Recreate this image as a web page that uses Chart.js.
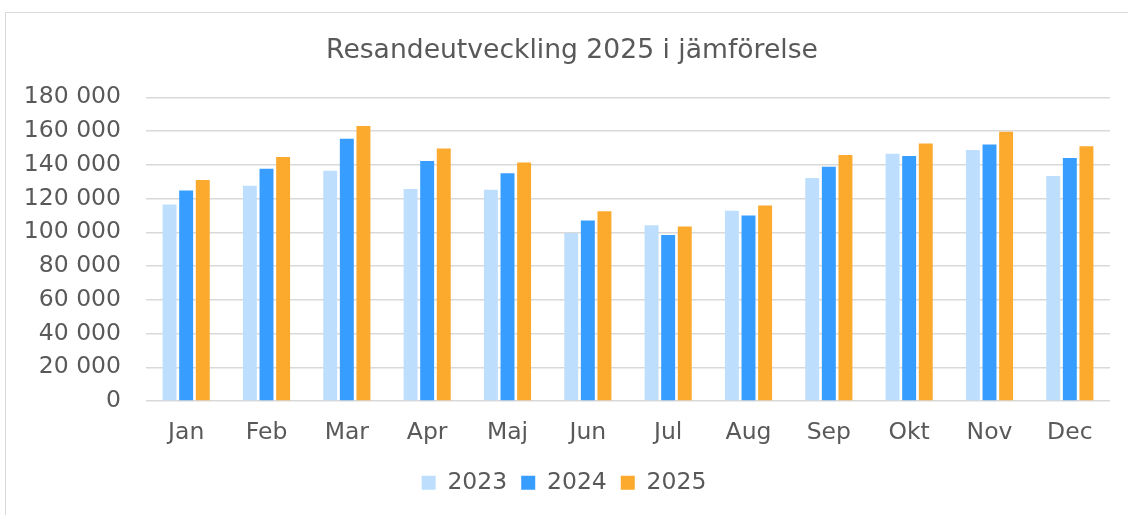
<!DOCTYPE html>
<html>
<head>
<meta charset="utf-8">
<script src="https://cdn.jsdelivr.net/npm/chart.js@4"></script>
<style>
  html, body { margin: 0; padding: 0; background: #ffffff; overflow: hidden; }
  #frame { position: absolute; left: 5px; top: 12px; width: 1140px; height: 520px; border: 1.5px solid #d9d9d9; box-sizing: border-box; }
  #wrap { position: absolute; left: 0; top: 0; width: 1128px; height: 515px; }
</style>
</head>
<body>
<div id="frame"></div>
<div id="wrap"><canvas id="c" width="1128" height="515"></canvas></div>
<script>
const titleText = "Resandeutveckling 2025 i jämförelse";
const months = ["Jan","Feb","Mar","Apr","Maj","Jun","Jul","Aug","Sep","Okt","Nov","Dec"];
const seriesNames = ["2023","2024","2025"];
const values2023 = [116400,127600,136400,125600,125200,99600,104200,112800,132200,146600,148800,133400];
const values2024 = [124800,137600,155400,142200,135000,107000,98400,110000,138800,145200,152000,144000];
const values2025 = [131000,144600,163000,149600,141400,112400,103400,115800,145800,152600,159600,151000];
const yMin = 0, yMax = 180000, yStep = 20000;
const colors = ["#BDDFFD","#379DFF","#FBAA2E"];

const fontFamily = "'DejaVu Sans', Verdana, sans-serif";
const textColor = "#595959";

function fmt(v) {
  return String(v).replace(/\B(?=(\d{3})+(?!\d))/g, " ");
}

const allValues = [values2023, values2024, values2025];
const datasets = seriesNames.map((name, i) => ({
  label: name,
  data: allValues[i],
  backgroundColor: colors[i],
  borderWidth: 0,
  barPercentage: 0.84,
  categoryPercentage: 0.62
}));

// Title drawn at its own centre (the reference title is not centred on the canvas)
const titlePlugin = {
  id: "offsetTitle",
  afterDraw(chart) {
    const ctx = chart.ctx;
    ctx.save();
    ctx.font = "normal 26.6px " + fontFamily;
    ctx.fillStyle = textColor;
    ctx.textAlign = "center";
    ctx.textBaseline = "middle";
    ctx.fillText(titleText, 572, 51);
    ctx.restore();
  }
};

new Chart(document.getElementById("c"), {
  type: "bar",
  data: { labels: months, datasets: datasets },
  plugins: [titlePlugin],
  options: {
    responsive: false,
    animation: false,
    devicePixelRatio: 1,
    layout: { padding: { left: 18, right: 18, top: 97.3, bottom: 10.5 } },
    plugins: {
      title: { display: false },
      legend: {
        position: "bottom",
        labels: {
          color: textColor,
          font: { family: fontFamily, size: 23.5 },
          boxWidth: 14,
          boxHeight: 14,
          padding: 14
        }
      },
      tooltip: { enabled: false }
    },
    scales: {
      x: {
        grid: { display: false, drawTicks: false },
        border: { display: false },
        ticks: { color: textColor, font: { family: fontFamily, size: 23.5 }, padding: 18 },
        afterFit: (s) => { s.height = 56; }
      },
      y: {
        min: yMin,
        max: yMax,
        grid: { color: "#d9d9d9", lineWidth: 1.5, drawTicks: false },
        border: { display: false },
        ticks: {
          stepSize: yStep,
          color: textColor,
          font: { family: fontFamily, size: 23.5 },
          padding: 25,
          callback: (v) => fmt(v)
        },
        afterFit: (s) => { s.width = 128; }
      }
    }
  }
});
</script>
</body>
</html>
